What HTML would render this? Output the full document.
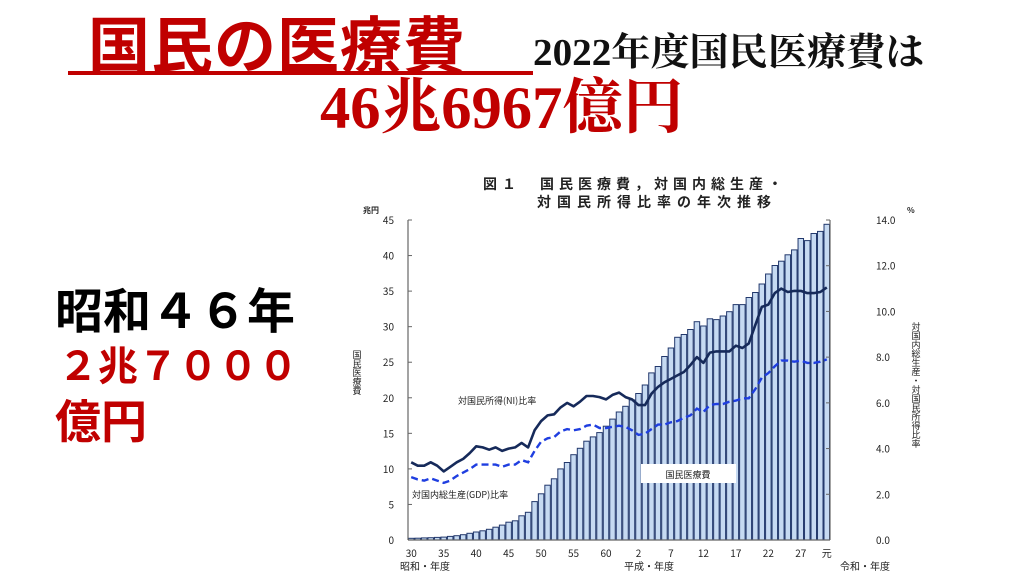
<!DOCTYPE html>
<html><head><meta charset="utf-8">
<style>
body{margin:0;width:1024px;height:576px;background:#fff;overflow:hidden;position:relative;font-family:"Liberation Serif","Noto Serif CJK SC","Noto Sans CJK JP",serif}
.a{position:absolute;white-space:nowrap;line-height:1}
</style></head><body>
<div class="a" style="left:88px;top:10px;font-size:62px;font-weight:bold;color:#c00000;font-family:'Noto Sans CJK JP',sans-serif;letter-spacing:1px">国民の医療費</div>
<div class="a" style="left:68px;top:71px;width:465px;height:4px;background:#c00000"></div>
<div class="a" style="left:533px;top:34px;font-size:38px;font-weight:bold;color:#111;transform:scaleX(1.03);transform-origin:left">2022年度国民医療費は</div>
<div class="a" style="left:320px;top:78px;font-size:60px;font-weight:bold;color:#c00000;transform:scaleX(1.01);transform-origin:left">46兆6967億円</div>
<div class="a" style="left:55px;top:283px;font-size:48px;font-weight:bold;color:#000;font-family:'Noto Sans CJK JP',sans-serif">昭和４６年</div>
<div class="a" style="left:58px;top:343px;font-size:40px;font-weight:bold;color:#c00000;font-family:'Noto Sans CJK JP',sans-serif">２兆７０００</div>
<div class="a" style="left:55px;top:396px;font-size:46px;font-weight:bold;color:#c00000;font-family:'Noto Sans CJK JP',sans-serif">億円</div>
<svg id="c" class="a" style="left:0;top:0" width="1024" height="576" font-family="'Noto Sans CJK JP',sans-serif"></svg>
<script>
var B=[0.24,0.26,0.29,0.32,0.37,0.41,0.51,0.61,0.74,0.94,1.12,1.3,1.5,1.8,2.1,2.5,2.7,3.4,3.9,5.4,6.5,7.7,8.6,10.0,10.9,12.0,12.9,13.9,14.5,15.1,16.0,17.0,18.0,18.8,19.7,20.6,21.8,23.5,24.4,25.8,27.0,28.5,28.9,29.6,30.7,30.1,31.1,31.0,31.5,32.1,33.1,33.1,34.1,34.8,36.0,37.4,38.6,39.2,40.1,40.8,42.4,42.1,43.1,43.4,44.4];
var N=[3.4,3.25,3.25,3.4,3.25,3.0,3.2,3.4,3.55,3.8,4.1,4.05,3.95,4.05,3.9,4.0,4.05,4.25,4.05,4.8,5.2,5.45,5.5,5.8,6.0,5.85,6.05,6.3,6.3,6.25,6.15,6.35,6.45,6.25,6.15,5.9,5.9,6.4,6.7,6.9,7.05,7.2,7.35,7.65,8.0,7.75,8.2,8.25,8.25,8.25,8.5,8.4,8.6,9.4,10.2,10.3,10.8,11.0,10.85,10.9,10.9,10.8,10.8,10.85,11.05];
var G=[2.75,2.65,2.6,2.7,2.6,2.5,2.6,2.8,2.95,3.1,3.3,3.3,3.3,3.3,3.2,3.3,3.3,3.5,3.4,3.9,4.3,4.45,4.5,4.75,4.85,4.8,4.85,5.0,5.05,4.9,4.9,4.95,5.0,4.95,4.8,4.6,4.65,4.85,5.05,5.05,5.15,5.2,5.35,5.45,5.75,5.6,5.9,5.95,5.95,6.05,6.1,6.2,6.2,6.6,7.1,7.3,7.6,7.85,7.85,7.8,7.85,7.75,7.75,7.8,7.9];
var x0=408,x1=830,y0=540,y1=220,w=(x1-x0)/65,s='';
function Y(v){return y0-v*(y0-y1)/45}function R(v){return y0-v*(y0-y1)/14}
function T(x,y,t,fs,a,ex){s+='<text x="'+x+'" y="'+y+'" font-size="'+fs+'" text-anchor="'+(a||'start')+'" fill="#222" '+(ex||'')+'>'+t+'</text>';}
for(var i=0;i<65;i++){var x=x0+i*w;s+='<rect x="'+(x+0.5).toFixed(2)+'" y="'+Y(B[i]).toFixed(1)+'" width="'+(w-1).toFixed(2)+'" height="'+(y0-Y(B[i])).toFixed(1)+'" fill="#c6daf2" stroke="#22386c" stroke-width="1"/>';}
s+='<line x1="'+x0+'" y1="'+y1+'" x2="'+x0+'" y2="'+y0+'" stroke="#666" stroke-width="1.2"/>';
s+='<line x1="'+x0+'" y1="'+y0+'" x2="'+x1+'" y2="'+y0+'" stroke="#666" stroke-width="1.2"/>';
s+='<line x1="'+x1+'" y1="'+y1+'" x2="'+x1+'" y2="'+y0+'" stroke="#666" stroke-width="1.2"/>';
for(var v=0;v<=45;v+=5){var y=Y(v);s+='<line x1="'+x0+'" y1="'+y+'" x2="'+(x0+4)+'" y2="'+y+'" stroke="#666"/>';T(394,y+4,v,10,'end');}
for(var v=0;v<=14;v+=2){var y=R(v);s+='<line x1="'+(x1-4)+'" y1="'+y+'" x2="'+x1+'" y2="'+y+'" stroke="#666"/>';T(876,y+4,v.toFixed(1),10,'start');}
function P(a){return a.map(function(v,i){return (x0+(i+0.5)*w).toFixed(1)+','+R(v).toFixed(1)}).join(' ')}
s+='<polyline points="'+P(N)+'" fill="none" stroke="#162a5a" stroke-width="2.6" stroke-linejoin="round"/>';
s+='<polyline points="'+P(G)+'" fill="none" stroke="#1f3ee0" stroke-width="2.4" stroke-dasharray="7,4"/>';
var L=[[0,'30'],[5,'35'],[10,'40'],[15,'45'],[20,'50'],[25,'55'],[30,'60'],[35,'2'],[40,'7'],[45,'12'],[50,'17'],[55,'22'],[60,'27'],[64,'元']];
L.forEach(function(l){T(x0+(l[0]+0.5)*w,557,l[1],10,'middle');});
T(400,570,'昭和・年度',10);T(624,570,'平成・年度',10);T(840,570,'令和・年度',10);
T(483,189,'図１　国民医療費，対国内総生産・',14,'start','font-weight="bold" letter-spacing="5"');
T(537,207,'対国民所得比率の年次推移',14,'start','font-weight="bold" letter-spacing="6"');
T(363,213,'兆円',8,'start','font-weight="bold"');T(907,213,'%',8,'start','font-weight="bold"');
s+='<text x="357" y="350" font-size="9" fill="#222" writing-mode="tb">国民医療費</text>';
s+='<text x="916" y="322" font-size="9" fill="#222" writing-mode="tb">対国内総生産・対国民所得比率</text>';
T(458,404,'対国民所得(NI)比率',9);T(412,498,'対国内総生産(GDP)比率',9);
s+='<rect x="641" y="464" width="95" height="19" fill="#fff"/>';T(688,478,'国民医療費',9,'middle');
document.getElementById('c').innerHTML=s;
</script>
</body></html>
